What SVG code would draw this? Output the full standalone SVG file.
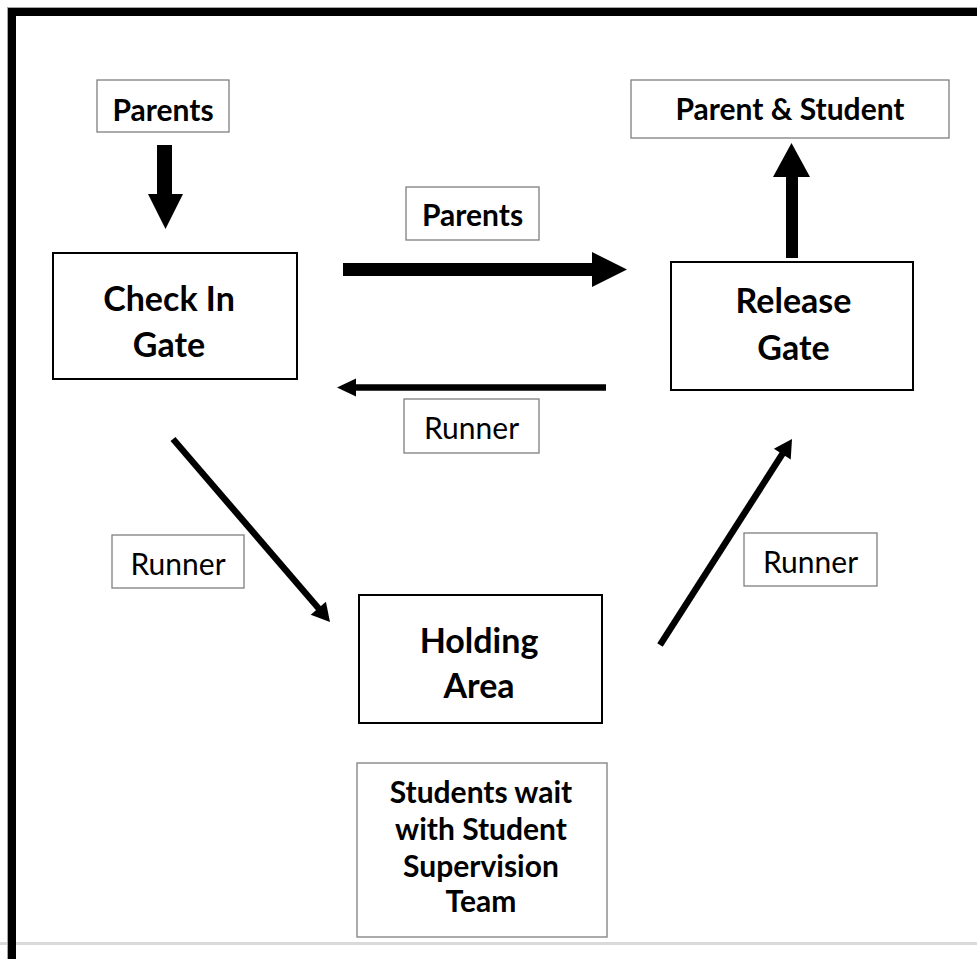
<svg xmlns="http://www.w3.org/2000/svg" width="977" height="959" viewBox="0 0 977 959">
<style>
.bg{fill:#ffffff}
.frame{fill:none;stroke:#000000;stroke-width:8}
.frame-edge{fill:none;stroke:#a6a6a6;stroke-width:1}
.edge{fill:none;stroke:#d9d9d9;stroke-width:3}
.main{fill:#ffffff;stroke:#000000;stroke-width:2}
.lbl{fill:#ffffff;stroke:#7f7f7f;stroke-width:1.3}
.big{font-family:Lato,"Liberation Sans",sans-serif;font-weight:bold;font-size:34px;fill:#000;text-anchor:middle}
.bold{font-family:Lato,"Liberation Sans",sans-serif;font-weight:bold;font-size:30px;fill:#000;text-anchor:middle}
.reg{font-family:Lato,"Liberation Sans",sans-serif;font-size:30px;fill:#000;text-anchor:middle}
.ar{fill:#000000;stroke:none}
.ln{stroke:#000000;stroke-width:6.5;fill:none}
</style>
<rect class="bg" x="0" y="0" width="977" height="959"/>
<line class="edge" x1="0" y1="943.5" x2="977" y2="943.5"/>
<rect class="frame-edge" x="7.5" y="7.5" width="990" height="990"/>
<rect class="frame" x="12" y="12" width="990" height="990"/>

<g id="connectors">
  <polygon class="ar" points="157,145 172,145 172,194 183,194 165.5,229 148,194 157,194"/>
  <polygon class="ar" points="343,263 592,263 592,252 627,269.5 592,287 592,276 343,276"/>
  <polygon class="ar" points="786,258 786,177 773,177 791.5,143 810,177 798,177 798,258"/>
  <line class="ln" x1="606" y1="387.5" x2="352" y2="387.5"/>
  <polygon class="ar" points="337,387.5 356,378.5 356,396.5"/>
  <line class="ln" x1="173" y1="439" x2="320" y2="610"/>
  <polygon class="ar" points="330,622 310.7,614.8 325.9,601.8"/>
  <line class="ln" x1="660" y1="645" x2="783" y2="453"/>
  <polygon class="ar" points="792,439 790.7,459.6 773.9,448.8"/>
</g>

<g id="parents-top">
  <rect class="lbl" x="97" y="80" width="132" height="52"/>
  <text class="bold" x="163" y="121">Parents</text>
</g>
<g id="check-in-gate">
  <rect class="main" x="53" y="253" width="244" height="126"/>
  <text class="big" x="169" y="311">Check In</text>
  <text class="big" x="169" y="357">Gate</text>
</g>
<g id="parents-mid">
  <rect class="lbl" x="406" y="187" width="133" height="53"/>
  <text class="bold" x="472.5" y="226">Parents</text>
</g>
<g id="runner-mid">
  <rect class="lbl" x="404" y="399" width="135" height="54"/>
  <text class="reg" x="471.5" y="439">Runner</text>
</g>
<g id="parent-student">
  <rect class="lbl" x="631" y="80" width="318" height="58"/>
  <text class="bold" x="790" y="120">Parent &amp; Student</text>
</g>
<g id="release-gate">
  <rect class="main" x="671" y="262" width="242" height="128"/>
  <text class="big" x="793.5" y="313">Release</text>
  <text class="big" x="793.5" y="360">Gate</text>
</g>
<g id="runner-left">
  <rect class="lbl" x="112" y="535" width="132" height="53"/>
  <text class="reg" x="178" y="575">Runner</text>
</g>
<g id="runner-right">
  <rect class="lbl" x="744" y="533" width="133" height="53"/>
  <text class="reg" x="810.5" y="573">Runner</text>
</g>
<g id="holding-area">
  <rect class="main" x="359" y="595" width="243" height="128"/>
  <text class="big" x="479" y="653">Holding</text>
  <text class="big" x="479" y="698">Area</text>
</g>
<g id="students-wait">
  <rect class="lbl" x="357" y="763" width="250" height="174"/>
  <text class="bold" x="481" y="803">Students wait</text>
  <text class="bold" x="481" y="840">with Student</text>
  <text class="bold" x="481" y="877">Supervision</text>
  <text class="bold" x="481" y="912">Team</text>
</g>
</svg>
